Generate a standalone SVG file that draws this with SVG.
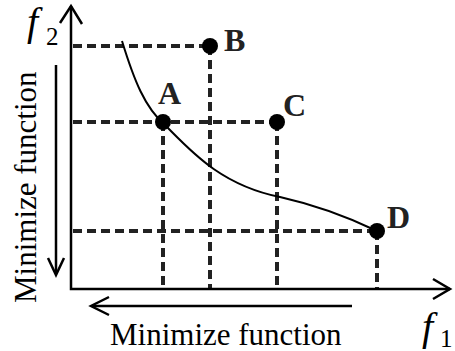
<svg xmlns="http://www.w3.org/2000/svg" width="455" height="351" viewBox="0 0 455 351">
<style>
.ax{stroke:#000;stroke-width:2.5;fill:none}
.ds{stroke:#222;stroke-width:4;stroke-dasharray:9 5;fill:none}
.cv{stroke:#000;stroke-width:2;fill:none}
.lb{font-weight:bold;font-size:32px;fill:#222}
.tx{font-size:31px;fill:#000}
.fi{font-style:italic;font-size:40px;fill:#000}
.sb{font-size:25px;fill:#000}
</style>
<rect width="455" height="351" fill="#fff"/>
<g id="connectors">
<path class="ds" d="M73,46 H210 M210,46 V289 M73,122 H277 M163,122 V289 M277,122 V289 M73,231 H377 M377,231 V289"/>
<path class="cv" d="M122,41 C134,80 145,108 165,125 C190,150 220,185 280,197 C320,206 350,218 377,231"/>
</g>
<g id="axes">
<path class="ax" d="M71,6 V289 H450"/>
<polyline class="ax" points="60,23 71,6 82,24"/>
<polyline class="ax" points="433,279 450,289 433,299"/>
<path class="ax" d="M56,65 V274"/>
<polyline class="ax" points="48,258 56,275 64,258"/>
<path class="ax" d="M352,306 H92"/>
<polyline class="ax" points="109,297 91,306 109,315"/>
</g>
<g font-family="Liberation Serif, Times New Roman, serif">
<g id="nodeA"><circle cx="163" cy="122" r="8" fill="#000"/><text class="lb" x="158" y="104">A</text></g>
<g id="nodeB"><circle cx="210" cy="46" r="8" fill="#000"/><text class="lb" x="224" y="51">B</text></g>
<g id="nodeC"><circle cx="277" cy="122" r="8" fill="#000"/><text class="lb" x="283" y="116">C</text></g>
<g id="nodeD"><circle cx="377" cy="231" r="8" fill="#000"/><text class="lb" x="387" y="228">D</text></g>
<g id="labels">
<text class="fi" x="27" y="35">f</text><text class="sb" x="46" y="45">2</text>
<text class="fi" x="422" y="340">f</text><text class="sb" x="440" y="347">1</text>
<text class="tx" x="110" y="345">Minimize function</text>
<text class="tx" transform="translate(36,303) rotate(-90)">Minimize function</text>
</g>
</g>
</svg>
